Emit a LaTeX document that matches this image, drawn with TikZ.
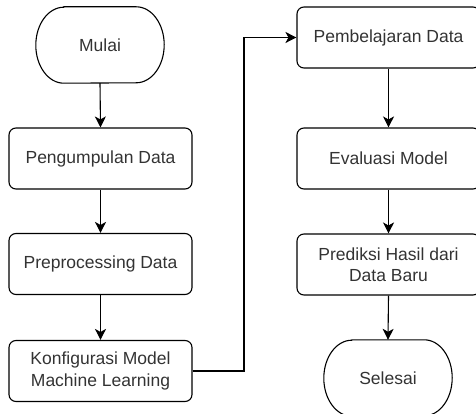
\documentclass[tikz,border=0pt]{standalone}
\usepackage{fontspec}
\setmainfont{Liberation Sans}
\usetikzlibrary{arrows.meta}
\begin{document}
\begin{tikzpicture}[x=1pt,y=-1pt,
  every node/.style={font=\fontsize{17.5}{21.5}\selectfont, text=black!80},
  procbox/.style={draw=black, line width=1.1pt, rounded corners=7pt,
    minimum width=183pt, minimum height=61pt, align=center, inner sep=0pt},
  termbox/.style={minimum width=128pt, minimum height=76pt, inner sep=0pt},
  flow/.style={draw=black, line width=1.1pt,
    -{Stealth[length=11pt,width=11pt,inset=3pt]}}]
  \useasboundingbox (0,0) rectangle (476,414);

  % terminal shapes: half-ellipse ends joined by straight edges
  \newcommand{\stadium}[1]{%
    \draw[line width=1.1pt]
      ([xshift=28pt]#1.north west) -- ([xshift=-28pt]#1.north east)
      arc[start angle=90, end angle=-90, x radius=28pt, y radius=38pt]
      -- ([xshift=28pt]#1.south west)
      arc[start angle=270, end angle=90, x radius=28pt, y radius=38pt]
      -- cycle;}

  % left column
  \node[termbox] (start) at (100,45) {Mulai};
  \stadium{start}
  \node[procbox] (collect) at (100.5,158.5) {Pengumpulan Data};
  \node[procbox] (prep) at (100.5,264) {Preprocessing Data};
  \node[procbox] (config) at (100.5,371) {Konfigurasi Model\\Machine Learning};

  % right column
  \node[procbox] (train) at (388.5,37.5) {Pembelajaran Data};
  \node[procbox] (eval) at (388.5,158.5) {Evaluasi Model};
  \node[procbox] (pred) at (388.5,264.5) {Prediksi Hasil dari\\Data Baru};
  \node[termbox] (end) at (388,378) {Selesai};
  \stadium{end}

  % connectors
  \coordinate (c1) at (244,371);
  \coordinate (c2) at (244,37.5);
  \draw[flow] (start.south) -- (collect.north);
  \draw[flow] (collect) -- (prep);
  \draw[flow] (prep) -- (config);
  \draw[flow] (config.east) -- (c1) -- (c2) -- (train.west);
  \draw[flow] (train) -- (eval);
  \draw[flow] (eval) -- (pred);
  \draw[flow] (pred.south) -- (end.north);
\end{tikzpicture}
\end{document}
